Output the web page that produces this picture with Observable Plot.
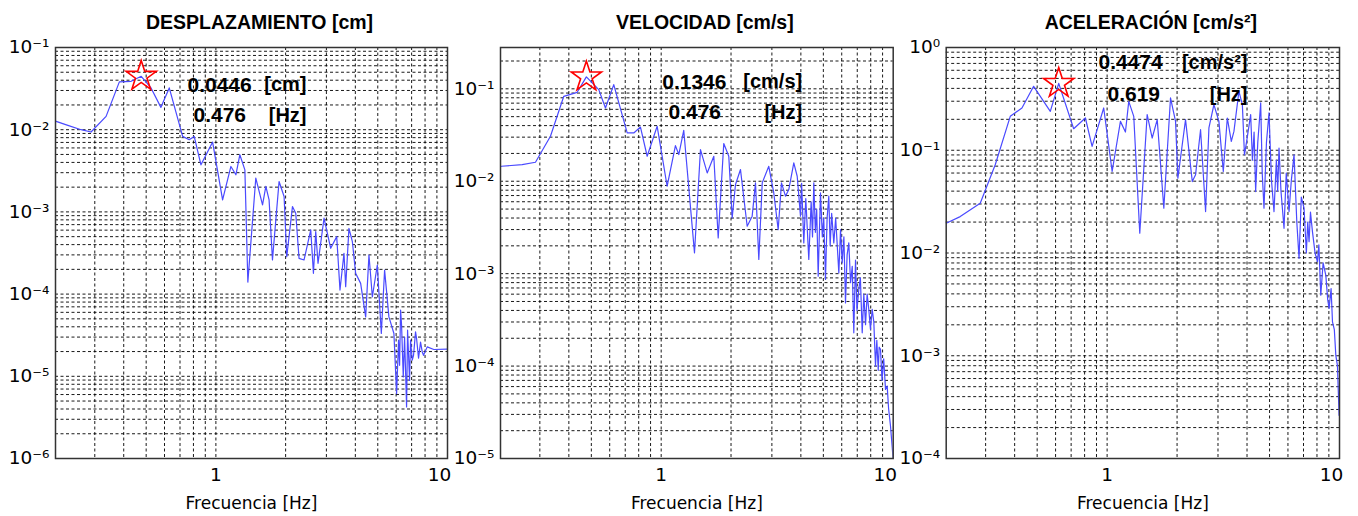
<!DOCTYPE html>
<html><head><meta charset="utf-8">
<script src="https://cdn.jsdelivr.net/npm/d3@7"></script>
<script src="https://cdn.jsdelivr.net/npm/@observablehq/plot@0.6"></script>
<style>
html,body{margin:0;padding:0;background:#fff;}
#wrap{position:relative;width:1358px;height:516px;overflow:hidden;background:#fff;}
#wrap > svg{position:absolute;top:0;overflow:visible;}
</style></head><body><div id="wrap"></div>
<script>
// ---------- data ----------
const dispFreq = [0.2043,0.2296,0.2618,0.289,0.3357,0.383,0.4305,0.476,0.5248,0.579,0.629,0.7186,0.767,0.806,0.862,0.968,1.069,1.161,1.22,1.269,1.334,1.374,1.487,1.590,1.643,1.697,1.755,1.874,1.970,2.023,2.141,2.212,2.286,2.402,2.568,2.637,2.698,2.76,2.93,3.131,3.324,3.434,3.573,3.634,3.754,3.884,4.012,4.217,4.433,4.58,4.737,4.977,5.179,5.351,5.585,5.87,6.028,6.148,6.21,6.272,6.334,6.442,6.527,6.658,6.724,6.858,6.926,7.044,7.135,7.278,7.351,7.499,7.649,7.78,7.88,8.175,8.73,9.97];
const dispAmp = [0.01263,0.01128,0.0100,0.00937,0.01453,0.0382,0.0388,0.0446,0.03225,0.0187,0.03225,0.00829,0.00755,0.00829,0.00374,0.00708,0.0014,0.00357,0.00283,0.00496,0.00325,0.00014,0.00258,0.00122,0.00204,0.0014,0.00026,0.00234,0.00154,0.000285,0.00116,0.000964,0.000272,0.00026,0.000603,0.000179,0.000575,0.000237,0.000838,0.000361,0.0005,0.000112,0.000313,0.000123,0.000632,0.000434,0.000179,0.000135,0.0000528,0.000299,0.0000927,0.000226,0.0000332,0.000196,0.0000528,0.0000332,0.00000615,0.0000275,0.0000136,0.0000638,0.0000419,0.0000098,0.00003,0.00000423,0.0000364,0.0000089,0.0000275,0.0000157,0.000018,0.0000347,0.000029,0.0000166,0.000026,0.0000198,0.000018,0.0000228,0.0000212,0.0000214];

const velFreq = [0.2049,0.2518,0.2872,0.3333,0.3804,0.4345,0.476,0.5383,0.5753,0.6246,0.7137,0.7618,0.8143,0.8702,0.961,1.061,1.152,1.191,1.251,1.392,1.477,1.579,1.686,1.761,1.861,1.956,2.023,2.091,2.197,2.348,2.467,2.55,2.635,2.726,2.909,3.057,3.194,3.3,3.434,3.548,3.729,3.857,3.985,4.03,4.118,4.2,4.327,4.43,4.49,4.548,4.62,4.68,4.75,4.86,4.95,5.02,5.107,5.19,5.277,5.35,5.43,5.546,5.65,5.83,5.93,6.028,6.13,6.229,6.33,6.436,6.55,6.66,6.764,6.88,6.98,7.108,7.22,7.353,7.47,7.6,7.72,7.849,7.98,8.119,8.25,8.389,8.5,8.62,8.7,8.818,8.95,9.1,9.265,9.422,9.55,9.736,9.99];
const velAmp = [0.01452,0.01515,0.01605,0.03066,0.08298,0.0917,0.1346,0.098,0.062,0.111,0.0333,0.0333,0.0386,0.01864,0.0393,0.00883,0.0243,0.01944,0.0356,0.00168,0.0220,0.0123,0.01864,0.00244,0.0256,0.01864,0.00401,0.00921,0.01338,0.00326,0.00419,0.0096,0.001424,0.0096,0.01452,0.00747,0.003,0.0096,0.00689,0.00813,0.01578,0.01132,0.00419,0.0095,0.00215,0.0065,0.001424,0.006,0.0025,0.0096,0.0028,0.005,0.00094,0.00747,0.0025,0.004,0.000865,0.004,0.00689,0.002,0.0045,0.00215,0.004,0.00102,0.003,0.00131,0.0025,0.000483,0.0016,0.00215,0.0008,0.0012,0.000229,0.0014,0.0004,0.000675,0.0009,0.000229,0.0006,0.00028,0.0006,0.00041,0.00025,0.00041,0.0003,0.0001,0.00019,0.00009,0.00016,0.0001515,0.00007,0.00012,0.000056,0.0000608,0.000035,0.0000225,0.00001];

const accFreq = [0.2029,0.2332,0.2844,0.33,0.383,0.43,0.4828,0.5695,0.619,0.7178,0.8063,0.8616,0.9667,1.051,1.141,1.199,1.239,1.302,1.382,1.487,1.563,1.643,1.754,1.874,1.970,2.016,2.105,2.175,2.325,2.402,2.524,2.653,2.742,2.881,3.027,3.162,3.29,3.423,3.513,3.692,3.819,3.9,3.985,4.147,4.22,4.29,4.357,4.45,4.58,4.65,4.732,4.85,4.973,5.1,5.226,5.35,5.42,5.492,5.6,5.771,5.9,6.066,6.2,6.373,6.55,6.698,6.85,7.038,7.2,7.3,7.396,7.5,7.649,7.85,8.04,8.15,8.307,8.5,8.73,8.9,9.02,9.2,9.328,9.5,9.641,9.8,9.96];
const accAmp = [0.01948,0.0226,0.0305,0.0722,0.2138,0.258,0.419,0.239,0.4474,0.162,0.206,0.1089,0.258,0.0621,0.191,0.1505,0.2993,0.2138,0.01556,0.222,0.1315,0.1984,0.0273,0.323,0.191,0.0535,0.113,0.1984,0.0496,0.0577,0.1585,0.0253,0.1647,0.278,0.191,0.0621,0.206,0.1219,0.1526,0.3748,0.278,0.09,0.1219,0.222,0.08,0.15,0.0396,0.12,0.2887,0.06,0.0273,0.12,0.2307,0.05,0.0253,0.08,0.04,0.1051,0.04,0.0174,0.06,0.0253,0.05,0.0904,0.02,0.00887,0.035,0.0273,0.01,0.02,0.0129,0.025,0.01614,0.01,0.00822,0.012,0.00389,0.008,0.0061,0.0035,0.00289,0.0045,0.00214,0.0018,0.00101,0.0008,0.000263];

const titles = ["DESPLAZAMIENTO [cm]", "VELOCIDAD [cm/s]", "ACELERACIÓN [cm/s²]"];
const units = ["[cm]", "[cm/s]", "[cm/s²]"];
const peakFreq = [0.476, 0.476, 0.619];
const peakValue = [0.0446, 0.1346, 0.4474];
const xTickLabels = [1, 10];
const yTicksDisp = [1e-6, 1e-5, 1e-4, 1e-3, 1e-2, 1e-1];
const yTicksVel = [1e-5, 1e-4, 1e-3, 1e-2, 1e-1];
const yTicksAcc = [1e-4, 1e-3, 1e-2, 1e-1, 1];
const xLabel = "Frecuencia [Hz]";

// ---------- drawing ----------
const xDomain = [0.203, 10];
const sup = {"-":"⁻","0":"⁰","1":"¹","2":"²","3":"³","4":"⁴","5":"⁵","6":"⁶","7":"⁷","8":"⁸","9":"⁹"};
const fmtPow = d => "10" + String(Math.round(Math.log10(d))).split("").map(c => sup[c]).join("");
const numFont = "Liberation Sans, Arial, sans-serif";
const tickFont = "DejaVu Sans, sans-serif";

function panel(i, freq, amp, yDomain, yTicks, left, width, mL, mR, ann) {
  const data = freq.map((f, k) => ({f, a: amp[k]}));
  const gx = d3.scaleLog().domain(xDomain).ticks().filter(d => d < 10);
  const gy = d3.scaleLog().domain(yDomain).ticks().filter(d => d > yDomain[0] * 1.0001 && d < yDomain[1] * 0.9999);
  const grid = {stroke: "#000", strokeWidth: 1, strokeDasharray: "3,2.5", strokeOpacity: 0.9};
  const tickText = {frameAnchor: "bottom", dy: 17, lineAnchor: "middle", fontSize: 18.5, fontFamily: tickFont};
  const svg = Plot.plot({
    width, height: 516,
    marginTop: 47, marginBottom: 58, marginLeft: mL, marginRight: mR,
    style: {fontFamily: tickFont, background: "transparent", color: "#000", overflow: "visible"},
    x: {type: "log", domain: xDomain, axis: null},
    y: {type: "log", domain: yDomain},
    marks: [
      Plot.ruleX(gx, {...grid}),
      Plot.ruleY(gy, {...grid}),
      Plot.line(data, {x: "f", y: "a", stroke: "#4a4aff", strokeWidth: 1.2, clip: true}),
      Plot.dot([{f: peakFreq[i], a: peakValue[i]}], {x: "f", y: "a", symbol: "star", r: 9.5, stroke: "#ff0000", strokeWidth: 1.6, fill: "none"}),
      Plot.frame({stroke: "#333", strokeWidth: 1.5}),
      Plot.axisY(yTicks, {tickSize: 0, tickPadding: 6, tickFormat: fmtPow, fontSize: 18.5, label: null, fontFamily: tickFont}),
      Plot.text([xTickLabels[0]], {x: d => d, text: d => String(d), ...tickText}),
      Plot.text([xTickLabels[1]], {x: d => d, text: d => String(d), dx: -8, ...tickText}),
      Plot.text([xLabel], {frameAnchor: "bottom", dy: 45, lineAnchor: "middle", fontSize: 17, fontFamily: tickFont}),
      Plot.text([titles[i]], {frameAnchor: "top", dx: 8, dy: -25, lineAnchor: "middle", fontSize: 19.5, fontWeight: "bold", fontFamily: numFont}),
      Plot.text([peakValue[i]], {text: d => String(d), frameAnchor: "top-left", dx: ann[0], dy: ann[1], textAnchor: "start", lineAnchor: "middle", fontSize: 21, fontWeight: "bold", fontFamily: numFont}),
      Plot.text([units[i]], {frameAnchor: "top-left", dx: ann[4], dy: ann[1], textAnchor: "end", lineAnchor: "middle", fontSize: 20, fontWeight: "bold", fontFamily: numFont}),
      Plot.text([peakFreq[i]], {text: d => String(d), frameAnchor: "top-left", dx: ann[2], dy: ann[3], textAnchor: "start", lineAnchor: "middle", fontSize: 21, fontWeight: "bold", fontFamily: numFont}),
      Plot.text(["[Hz]"], {frameAnchor: "top-left", dx: ann[4], dy: ann[3], textAnchor: "end", lineAnchor: "middle", fontSize: 20, fontWeight: "bold", fontFamily: numFont})
    ]
  });
  svg.style.left = left + "px";
  svg.style.overflow = "visible";
  document.getElementById("wrap").appendChild(svg);
}

panel(0, dispFreq, dispAmp, [1e-6, 1e-1], yTicksDisp, 0, 453, 55, 6, [132, 37.5, 138, 68, 251]);
panel(1, velFreq, velAmp, [1e-5, 0.28], yTicksVel, 453, 447, 47, 7.3, [161.7, 34.5, 168, 65, 301.7]);
panel(2, accFreq, accAmp, [1e-4, 1], yTicksAcc, 900, 458, 45.7, 19, [152.3, 15, 161.3, 47, 301.3]);
</script></body></html>
